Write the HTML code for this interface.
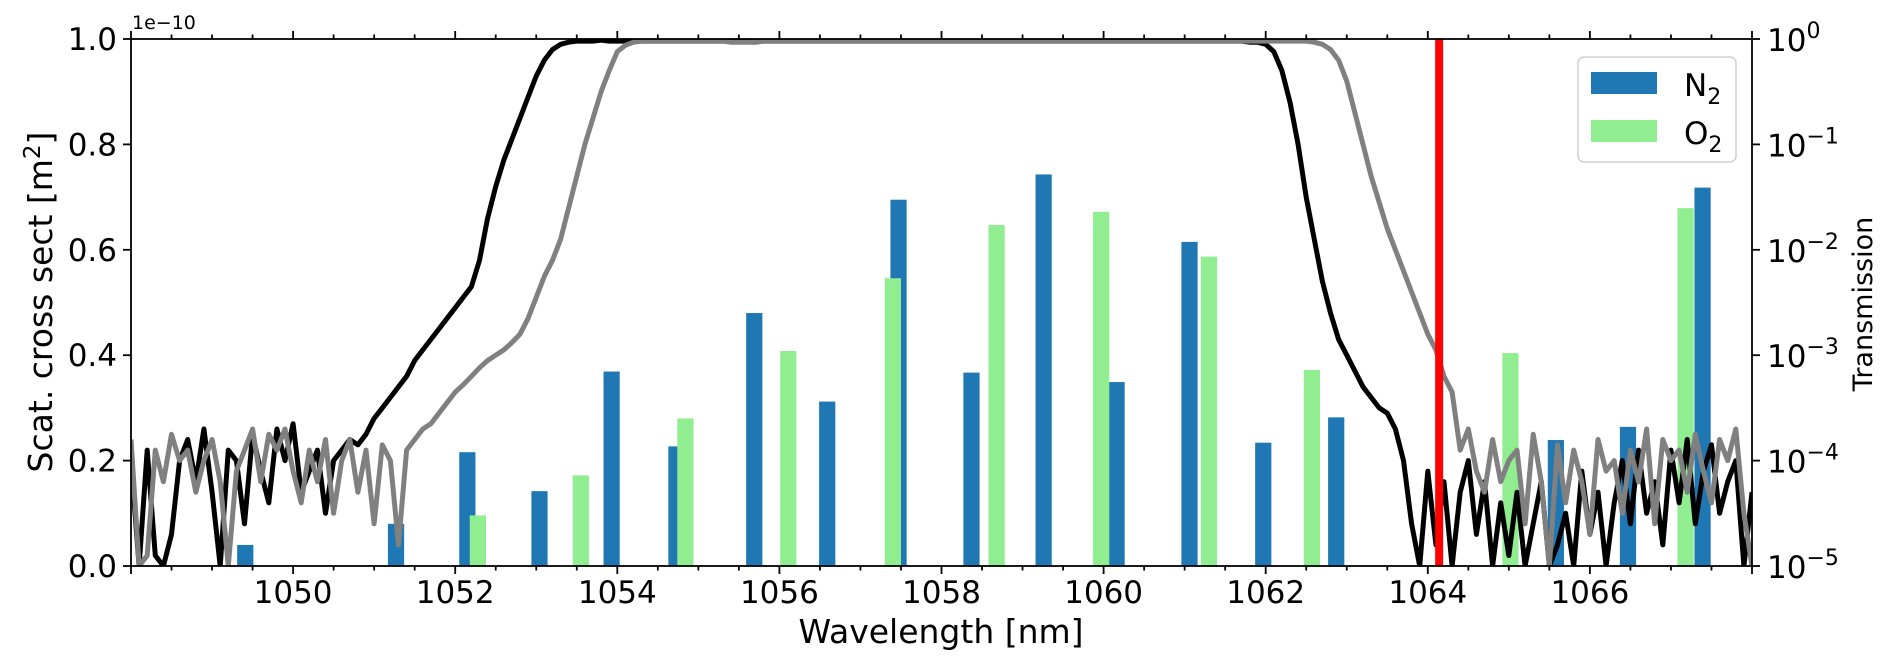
<!DOCTYPE html>
<html>
<head>
<meta charset="utf-8">
<style>
  html, body { margin: 0; padding: 0; background: #ffffff; }
  svg { display: block; font-family: "DejaVu Sans", "Liberation Sans", sans-serif; }
</style>
</head>
<body>
<svg id="chart" width="1892" height="672" viewBox="0 0 1892 672" xmlns="http://www.w3.org/2000/svg">
  <defs>
    <clipPath id="plotClip"><rect x="131" y="39" width="1621" height="527"/></clipPath>
  </defs>
  <g id="bars" clip-path="url(#plotClip)"></g>
  <g id="lines" clip-path="url(#plotClip)"></g>
  <g id="laser" clip-path="url(#plotClip)"></g>
  <g id="axes"></g>

  <text x="132" y="29" font-size="19" fill="#000">1e−10</text>
  <text x="0" y="0" font-size="33" fill="#000" text-anchor="middle" transform="translate(52,302) rotate(-90)">Scat. cross sect [m<tspan dy="-12" font-size="23">2</tspan><tspan dy="12">]</tspan></text>
  <text x="941" y="643" font-size="33" fill="#000" text-anchor="middle">Wavelength [nm]</text>
  <text x="0" y="0" font-size="27" fill="#000" text-anchor="middle" transform="translate(1872,304) rotate(-90)">Transmission</text>

  <g>
    <rect x="1578" y="57" width="158" height="105" rx="6" ry="6" fill="#ffffff" fill-opacity="0.8" stroke="#d0d0d0" stroke-width="1.5"/>
    <rect x="1591" y="72" width="66" height="22" fill="#1f77b4"/>
    <text x="1684" y="96" font-size="31" fill="#000">N<tspan dy="8" font-size="22">2</tspan></text>
    <rect x="1591" y="120" width="66" height="22" fill="#90ee90"/>
    <text x="1684" y="144" font-size="31" fill="#000">O<tspan dy="8" font-size="22">2</tspan></text>
  </g>
</svg>
<script>
// ---------- data ----------
const n2Wavelengths = [1049.41, 1051.27, 1052.15, 1053.04, 1053.93, 1054.73, 1055.69, 1056.59, 1057.47, 1058.37, 1059.26, 1060.16, 1061.06, 1061.97, 1062.87, 1065.58, 1066.47, 1067.39];
const n2Values      = [0.04, 0.08, 0.216, 0.142, 0.369, 0.227, 0.48, 0.312, 0.695, 0.367, 0.743, 0.349, 0.615, 0.234, 0.282, 0.239, 0.264, 0.718];
const o2Wavelengths = [1052.28, 1053.55, 1054.84, 1056.11, 1057.40, 1058.68, 1059.97, 1061.30, 1062.57, 1065.02, 1067.18];
const o2Values      = [0.096, 0.172, 0.28, 0.408, 0.546, 0.647, 0.672, 0.587, 0.372, 0.404, 0.679];
const barWidthNm = 0.2;
const laserWavelength = 1064.14;

// transmission sampled on a wavelength grid (log10 of transmission)
const gridStart = 1048.0;
const gridStep = 0.1;
const blackLog10T = [
  -4.0,-5,-3.9,-4.9,-5,-4.7,-4.0,-3.8,-4.2,-3.7,
  -4.3,-5,-3.9,-4.0,-4.6,-3.75,-4.1,-4.4,-3.7,-4.0,
  -3.65,-4.3,-4.1,-3.9,-4.5,-4.0,-3.9,-3.8,
  -3.85,-3.75,-3.6,-3.5,-3.4,-3.3,-3.2,-3.05,-2.95,-2.85,
  -2.75,-2.65,-2.55,-2.45,-2.35,-2.1,-1.7,-1.4,-1.15,-0.95,
  -0.75,-0.55,-0.35,-0.2,-0.1,-0.05,
  -0.03,-0.02,-0.02,-0.02,-0.01,-0.02,-0.02,-0.02,-0.02,-0.02,
  -0.02,-0.02,-0.02,-0.02,-0.02,-0.02,-0.02,-0.02,-0.02,-0.02,
  -0.02,-0.02,-0.02,-0.03,-0.02,-0.02,-0.02,-0.02,-0.02,-0.02,
  -0.02,-0.02,-0.02,-0.02,-0.02,-0.02,-0.02,-0.02,-0.02,-0.02,
  -0.02,-0.02,-0.02,-0.02,-0.02,-0.02,-0.02,-0.02,-0.02,-0.02,
  -0.02,-0.02,-0.02,-0.02,-0.02,-0.02,-0.02,-0.02,-0.02,-0.02,
  -0.02,-0.02,-0.02,-0.02,-0.02,-0.02,-0.02,-0.02,-0.02,-0.02,
  -0.02,-0.02,-0.02,-0.02,-0.02,-0.02,-0.02,-0.02,-0.02,-0.02,
  -0.02,-0.02,-0.02,-0.02,-0.03,-0.03,
  -0.05,-0.12,-0.3,-0.6,-1.0,-1.5,-1.9,-2.3,-2.6,-2.85,
  -3.0,-3.15,-3.3,-3.4,-3.5,-3.55,-3.7,-4.0,-4.6,
  -5,-4.1,-4.8,-4.2,-5,-4.3,-4.0,-4.7,-4.2,-5,
  -4.4,-4.9,-4.3,-5,-4.6,-4.2,-5,-4.8,-4.5,-5,
  -4.1,-4.7,-4.3,-5,-4.4,-4.0,-4.6,-3.9,-4.5,-4.2,
  -4.8,-3.9,-4.4,-3.8,-4.6,-4.1,-3.85,-4.5,-4.2,-4.0,
  -5,-4.3
];
const grayLog10T = [
  -3.8,-5,-4.9,-3.9,-4.2,-3.75,-4.0,-3.9,-4.3,-4.0,
  -3.8,-4.2,-5,-4.1,-3.9,-3.7,-4.2,-3.75,-3.9,-3.7,
  -4.1,-4.4,-3.9,-4.2,-3.8,-4.5,-4.0,-3.8,-4.3,-3.9,
  -4.6,-3.85,-4.0,
  -4.8,-3.9,-3.8,-3.7,-3.65,-3.55,-3.45,-3.35,-3.28,-3.2,
  -3.12,-3.05,-3.0,-2.95,-2.88,-2.8,-2.65,-2.45,-2.25,-2.1,
  -1.9,-1.6,-1.3,-1.0,-0.75,-0.5,-0.3,-0.12,
  -0.06,-0.03,-0.02,-0.02,-0.02,-0.02,-0.02,-0.02,-0.02,-0.02,
  -0.02,-0.02,-0.02,-0.03,-0.03,-0.03,-0.03,-0.02,-0.02,-0.02,
  -0.02,-0.02,-0.02,-0.02,-0.02,-0.02,-0.02,-0.02,-0.02,-0.02,
  -0.02,-0.02,-0.02,-0.02,-0.02,-0.02,-0.02,-0.02,-0.02,-0.02,
  -0.02,-0.02,-0.02,-0.02,-0.02,-0.02,-0.02,-0.02,-0.02,-0.02,
  -0.02,-0.02,-0.02,-0.02,-0.02,-0.02,-0.02,-0.02,-0.02,-0.02,
  -0.02,-0.02,-0.02,-0.02,-0.02,-0.02,-0.02,-0.02,-0.02,-0.02,
  -0.02,-0.02,-0.02,-0.02,-0.02,-0.02,-0.02,-0.02,-0.02,-0.02,
  -0.02,-0.02,-0.02,-0.02,-0.02,
  -0.03,-0.05,-0.1,-0.2,-0.4,-0.7,-1.0,-1.3,-1.55,-1.8,
  -2.0,-2.2,-2.4,-2.6,-2.8,-2.95,-3.2,-3.35,
  -3.9,-3.7,-4.1,-4.3,-3.8,-4.2,-4.0,-3.9,-4.6,-3.75,
  -4.2,-5,-3.85,-4.4,-3.9,-4.2,-4.7,-3.8,-4.1,-4.0,
  -4.5,-3.9,-4.2,-3.7,-4.6,-3.8,-4.0,-3.9,-4.3,-3.75,
  -4.1,-4.4,-3.8,-4.0,-3.7,-4.5,-5
];

const xTickValues = [1050, 1052, 1054, 1056, 1058, 1060, 1062, 1064, 1066];
const xTickLabels = ["1050", "1052", "1054", "1056", "1058", "1060", "1062", "1064", "1066"];
const yTickValues = [0, 0.2, 0.4, 0.6, 0.8, 1.0];
const yTickLabels = ["0.0", "0.2", "0.4", "0.6", "0.8", "1.0"];
const rightTickExponents = [-5, -4, -3, -2, -1, 0];
const rightTickLabels = ["−5", "−4", "−3", "−2", "−1", "0"];

// ---------- scales ----------
const PL = 131, PR = 1752, PT = 39, PB = 566;
const X_MIN = 1048, X_MAX = 1068;
function xs(nm) { return PL + (nm - X_MIN) / (X_MAX - X_MIN) * (PR - PL); }
function ysLeft(v) { return PB - v / 1.0 * (PB - PT); }
function ysRight(lg) { return PB - (lg + 5) / 5 * (PB - PT); }

const NS = "http://www.w3.org/2000/svg";
function mk(tag, attrs, parent) {
  const e = document.createElementNS(NS, tag);
  for (const k in attrs) e.setAttribute(k, attrs[k]);
  parent.appendChild(e);
  return e;
}

// ---------- bars ----------
const gBars = document.getElementById("bars");
n2Wavelengths.forEach((wl, i) => {
  const x0 = xs(wl - barWidthNm / 2), x1 = xs(wl + barWidthNm / 2);
  const r = mk("rect", { x: x0, y: ysLeft(n2Values[i]), width: x1 - x0, height: PB - ysLeft(n2Values[i]), fill: "#1f77b4" }, gBars);
  
  
});
o2Wavelengths.forEach((wl, i) => {
  const x0 = xs(wl - barWidthNm / 2), x1 = xs(wl + barWidthNm / 2);
  const r = mk("rect", { x: x0, y: ysLeft(o2Values[i]), width: x1 - x0, height: PB - ysLeft(o2Values[i]), fill: "#90ee90" }, gBars);
  
  
});

// ---------- transmission lines ----------
const gLines = document.getElementById("lines");
function linePts(arr) {
  return arr.map((lg, i) => xs(gridStart + i * gridStep).toFixed(1) + "," + ysRight(lg).toFixed(1)).join(" ");
}
const blackLine = mk("polyline", { points: linePts(blackLog10T), fill: "none", stroke: "#000000", "stroke-width": 5, "stroke-linejoin": "round" }, gLines);


const grayLine = mk("polyline", { points: linePts(grayLog10T), fill: "none", stroke: "#808080", "stroke-width": 5, "stroke-linejoin": "round" }, gLines);



// ---------- laser line ----------
const laser = mk("line", { x1: xs(laserWavelength), x2: xs(laserWavelength), y1: PT, y2: PB, stroke: "#ff0000", "stroke-width": 8 }, document.getElementById("laser"));



// ---------- axes ----------
const gAx = document.getElementById("axes");
const frame = mk("rect", { x: PL, y: PT, width: PR - PL, height: PB - PT, fill: "none", stroke: "#000", "stroke-width": 1.8 }, gAx);



for (let m = 1048; m <= 1068.001; m += 0.5) {
  const x = xs(m);
  const major = Math.abs((m - 1050) / 2 - Math.round((m - 1050) / 2)) < 1e-6;
  const len = major ? 8 : 4.5;
  const tb = mk("line", { x1: x, x2: x, y1: PB, y2: PB + len, stroke: "#000", "stroke-width": 1.8 }, gAx);
  
  
  const tt = mk("line", { x1: x, x2: x, y1: PT, y2: PT - len, stroke: "#000", "stroke-width": 1.8 }, gAx);
  
  
}
xTickValues.forEach((v, i) => {
  const t = mk("text", { x: xs(v), y: 603, "font-size": 31, "text-anchor": "middle", fill: "#000" }, gAx);
  t.textContent = xTickLabels[i];
  
  
});
yTickValues.forEach((v, i) => {
  const y = ysLeft(v);
  const tk = mk("line", { x1: PL - 8, x2: PL, y1: y, y2: y, stroke: "#000", "stroke-width": 1.8 }, gAx);
  
  
  const t = mk("text", { x: 117, y: y + 11, "font-size": 31, "text-anchor": "end", fill: "#000" }, gAx);
  t.textContent = yTickLabels[i];
  
  
});
rightTickExponents.forEach((e, i) => {
  const y = ysRight(e);
  const tk = mk("line", { x1: PR, x2: PR + 8, y1: y, y2: y, stroke: "#000", "stroke-width": 1.8 }, gAx);
  
  
  const t = mk("text", { x: 1767, y: y + 12, "font-size": 31, fill: "#000" }, gAx);
  
  
  t.appendChild(document.createTextNode("10"));
  const sup = mk("tspan", { dy: -13, "font-size": 22 }, t);
  sup.textContent = rightTickLabels[i];
});
</script>
</body>
</html>
